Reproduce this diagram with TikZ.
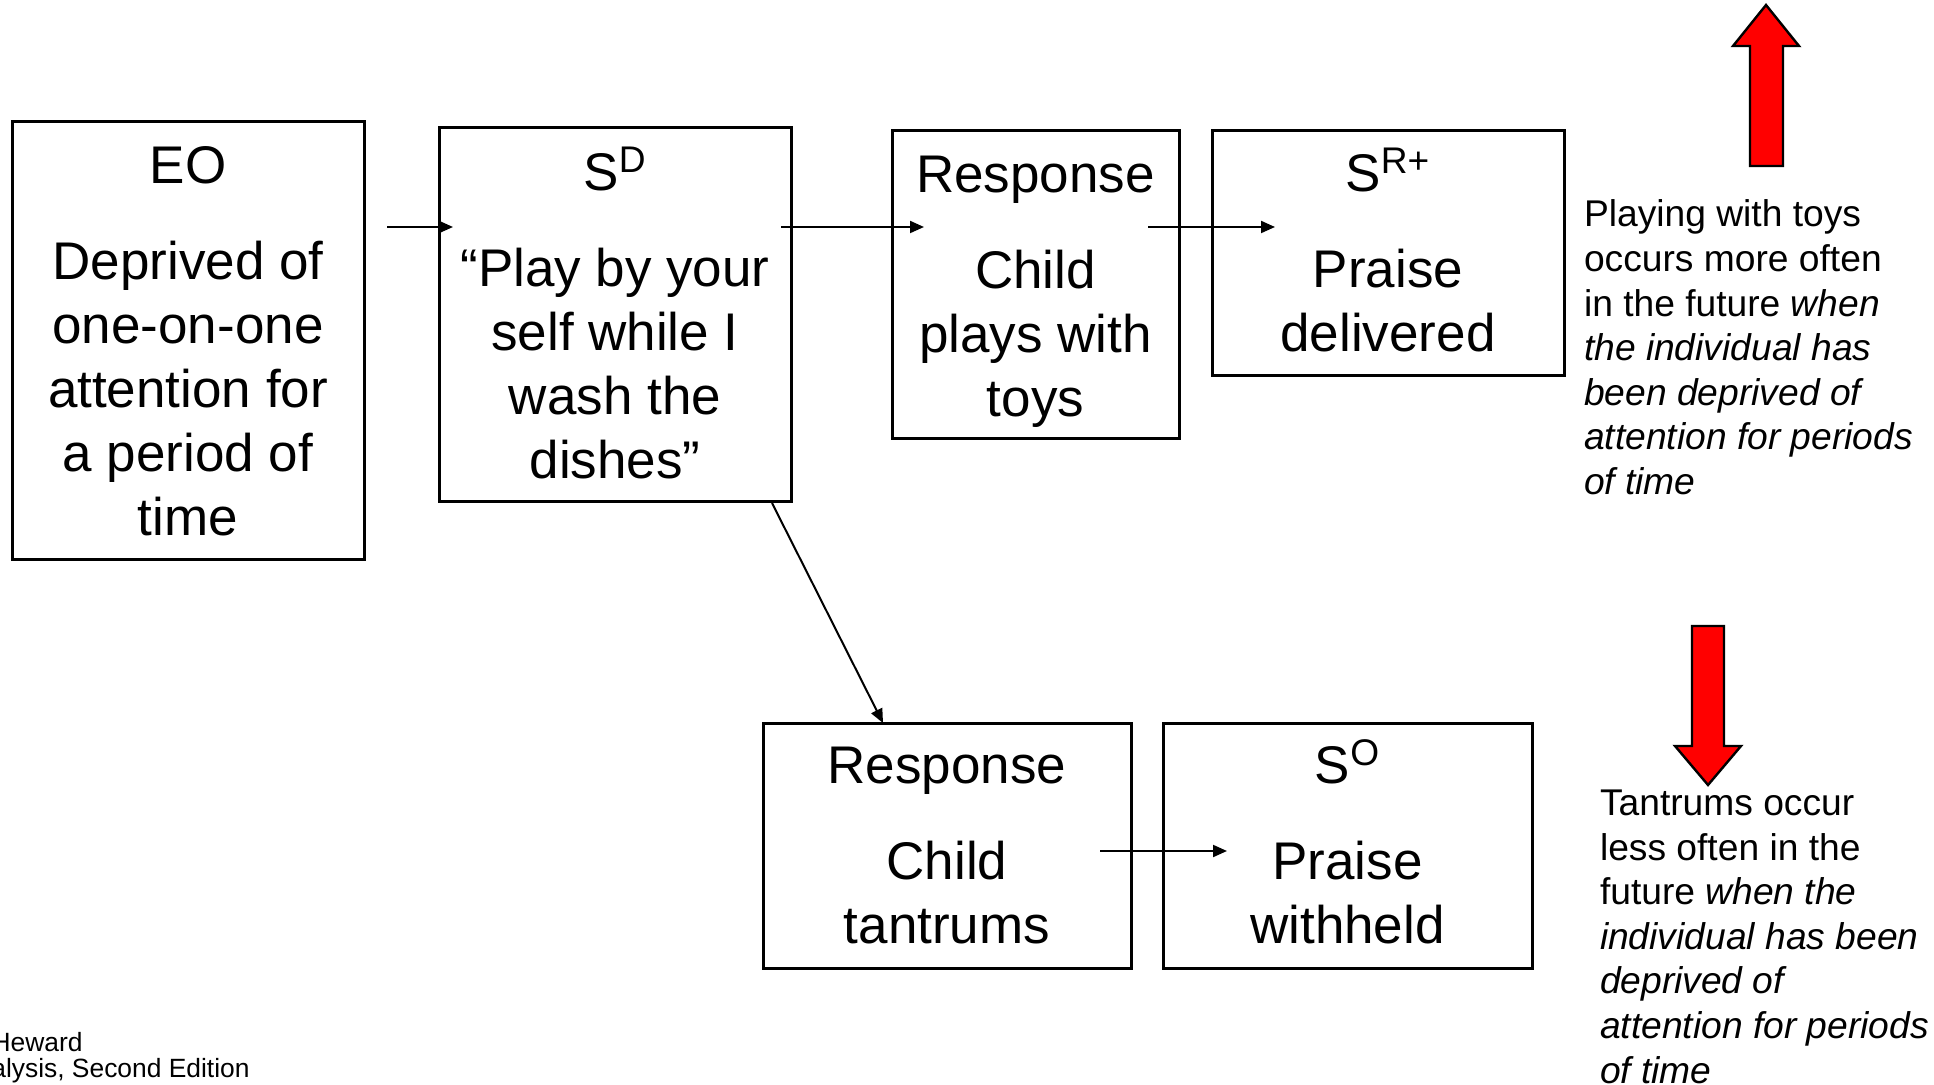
\documentclass[tikz,border=0pt]{standalone}
\usepackage{fontspec}
\setmainfont{Liberation Sans}
\usetikzlibrary{calc,arrows.meta}

\tikzset{
  box/.style={draw, line width=1.5pt, inner sep=0pt, outer sep=0pt, align=center,
    font=\fontsize{26.5}{32}\selectfont},
  note/.style={inner sep=0pt, outer sep=0pt, align=left, anchor=north west,
    font=\fontsize{18.6}{22.3}\selectfont},
  credit/.style={inner sep=0pt, anchor=base east, font=\fontsize{13.2}{15}\selectfont},
  link/.style={->, line width=1pt},
  bigarrow/.style={fill=red, draw=black, line width=1.2pt}
}

% invisible struts to nudge the text inside a box
\newcommand{\lift}[1]{\rule[-#1]{0pt}{#1}}
\newcommand{\drop}[1]{\rule{0pt}{#1}}

\begin{document}
\begin{tikzpicture}[x=0.5pt, y=-0.5pt, >={Triangle[length=7pt,width=6pt]}]

    \useasboundingbox (0,0) rectangle (1934,1085);

    % First draw the top row of boxes
    \node [box, minimum width=176pt, minimum height=219pt] (EO) at (188,341)
      {EO\\[16pt]Deprived of\\one-on-one\\attention for\\a period of\\time};
    \node [box, minimum width=176pt, minimum height=187pt] (SD) at (615,315)
      {S\textsuperscript{D}\\[16pt]“Play by your\\self while I\\wash the\\dishes”\lift{1.8pt}};
    \node [box, minimum width=143.5pt, minimum height=154pt] (RespT) at (1035.5,285)
      {\drop{25pt}Response\\[16pt]Child\\plays with\\toys};
    \node [box, minimum width=176pt, minimum height=122.5pt] (SR) at (1388,253.5)
      {S\textsuperscript{R+}\\[16pt]Praise\\delivered\lift{3.7pt}};

    % Next, the bottom row of boxes
    \node [box, minimum width=184pt, minimum height=122.5pt] (RespB) at (947,845.5)
      {Response\\[16pt]Child\\tantrums};
    \node [box, minimum width=184.5pt, minimum height=122.5pt] (SO) at (1347.5,845.5)
      {S\textsuperscript{O}\\[16pt]Praise\\withheld\lift{3.7pt}};

    % Connect the boxes
    \draw [link] ($ (EO.north east)+(23,105) $) -- ($ (SD.north west)+(14,99) $);
    \draw [link] ($ (SD.north east)+(-10,99) $) -- ($ (RespT.north west)+(32,96) $);
    \draw [link] ($ (RespT.north east)+(-31,96) $) -- ($ (SR.north west)+(63,96) $);
    \draw [link] ($ (SD.south east)+(-19,1) $) -- ($ (RespB.north west)+(120,0) $);
    \draw [link] ($ (RespB.north east)+(-31,128) $) -- ($ (SO.north west)+(64,128) $);

    % Red block arrows for more and less often
    \draw [bigarrow] (1750,166) -- (1750,46) -- (1733,46) -- (1766,5)
      -- (1799,46) -- (1783,46) -- (1783,166) -- cycle;
    \draw [bigarrow] (1692,626) -- (1724,626) -- (1724,746) -- (1741,746)
      -- (1708,785) -- (1675,746) -- (1692,746) -- cycle;

    % The notes on the right
    \node [note] (more) at (1584,200)
      {Playing with toys\\occurs more often\\in the future \textit{when}\\\textit{the individual has}\\\textit{been deprived of}\\\textit{attention for periods}\\\textit{of time}};
    \node [note] (less) at (1600,790)
      {Tantrums occur\\less often in the\\future \textit{when the}\\\textit{individual has been}\\\textit{deprived of}\\\textit{attention for periods}\\\textit{of time}};

    % Source lines, cut off at the left edge
    \node [credit] (src1) at (83,1051) {Heward};
    \node [credit] (src2) at (250,1077) {alysis, Second Edition};

\end{tikzpicture}
\end{document}
